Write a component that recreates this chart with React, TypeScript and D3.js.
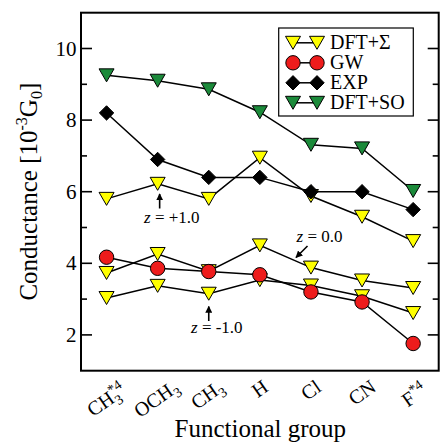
import React from 'react';
import * as d3 from 'd3';

// ---- data ----
const categories = ['CH3*4', 'OCH3', 'CH3', 'H', 'Cl', 'CN', 'F*4'];
const labelBase = ['CH', 'OCH', 'CH', 'H', 'Cl', 'CN', 'F'];
const labelSub = ['3', '3', '3', '', '', '', ''];
const labelSup = ['*4', '', '', '', '', '', '*4'];

const dftSigmaPlus1 = [5.8, 6.22, 5.8, 6.95, 5.88, 5.3, 4.62];
const dftSigmaZero = [3.73, 4.26, 3.78, 4.5, 3.88, 3.52, 3.31];
const dftSigmaMinus1 = [3.03, 3.37, 3.15, 3.53, 3.38, 3.08, 2.61];
const gwValues = [4.17, 3.86, 3.77, 3.68, 3.2, 2.92, 1.76];
const expValues = [8.2, 6.9, 6.4, 6.4, 6.0, 6.0, 5.5];
const dftSOValues = [9.25, 9.1, 8.86, 8.22, 7.31, 7.21, 6.02];

const yMajorTicks = [2, 4, 6, 8, 10];
const yMinorTicks = [3, 5, 7, 9];

const legendNames = ['DFT+Σ', 'GW', 'EXP', 'DFT+SO'];

const FONT = 'Liberation Serif';

type Marker = 'tri' | 'circle' | 'diamond';

function markerPath(m: Marker): string {
  if (m === 'tri') return 'M-7.5,-6.5L7.5,-6.5L0,6.5Z';
  if (m === 'diamond') return 'M0,-7.2L7.2,0L0,7.2L-7.2,0Z';
  return d3.arc()({ innerRadius: 0, outerRadius: 7.2, startAngle: 0, endAngle: 2 * Math.PI }) as string;
}

const CW: Record<string, number> = { C: 0.667, H: 0.722, O: 0.722, l: 0.278, N: 0.722, F: 0.556 };
const textW = (s: string, size: number) => s.split('').reduce((a, ch) => a + (CW[ch] ?? 0.5), 0) * size;

const W = 440, H = 445;
const left = 81, right = 438.7, top = 12.7, bottom = 370.7;
const x = d3.scaleLinear().domain([-0.5, 6.5]).range([left, right]);
const y = d3.scaleLinear().domain([1, 11]).range([bottom, top]);

const series: { values: number[]; marker: Marker; fill: string }[] = [
  { values: dftSigmaPlus1, marker: 'tri', fill: '#ffff00' },
  { values: dftSigmaZero, marker: 'tri', fill: '#ffff00' },
  { values: dftSigmaMinus1, marker: 'tri', fill: '#ffff00' },
  { values: gwValues, marker: 'circle', fill: '#ee1c1c' },
  { values: expValues, marker: 'diamond', fill: '#000000' },
  { values: dftSOValues, marker: 'tri', fill: '#1b8a3a' },
];
const legMarkers: Marker[] = ['tri', 'circle', 'diamond', 'tri'];
const legFills = ['#ffff00', '#ee1c1c', '#000000', '#1b8a3a'];

const ANG = -35;

function xLabelPos(i: number): [number, number] {
  const base = textW(labelBase[i], 20);
  const sub = labelSub[i] ? textW(labelSub[i], 14) : 0;
  const sup = labelSup[i] ? textW(labelSup[i], 14) : 0;
  const w = base + Math.max(sub, sup);
  const yTop = labelSup[i] ? -17.5 : -13.5;
  const yBot = labelSub[i] ? 5 : 0;
  const a = ANG * Math.PI / 180, ca = Math.cos(a), sa = Math.sin(a);
  const pts = [[-w / 2, yTop], [w / 2, yTop], [-w / 2, yBot], [w / 2, yBot]]
    .map(([px, py]) => [px * ca - py * sa, px * sa + py * ca]);
  const minX = Math.min(...pts.map(p => p[0])), maxX = Math.max(...pts.map(p => p[0]));
  const minY = Math.min(...pts.map(p => p[1]));
  return [x(i) - (minX + maxX) / 2, 379 - minY];
}

const line = d3.line<number>().x((_, i) => x(i)).y(d => y(d));

const annotations = [
  { tx: 144, ty: 222.7, label: ' = +1.0', a: [x(1) + 2, 208.5, x(1) + 2, 194] },
  { tx: 296.5, ty: 241.7, label: ' = 0.0', a: [307.5, 246, 296, 257.5] },
  { tx: 191, ty: 333, label: ' = -1.0', a: [x(2), 321, x(2), 306.5] },
];

export default function App() {
  return (
    <svg width={W} height={H}
      style={{ position: 'absolute', left: 0, top: 0, display: 'block', background: '#fff' }}>
      <defs>
        <marker id="ah" viewBox="0 0 10 10" refX={9} refY={5} markerWidth={7} markerHeight={7}
          markerUnits="userSpaceOnUse" orient="auto">
          <path d="M0,0L10,5L0,10Z" fill="#000" />
        </marker>
      </defs>
      <rect width={W} height={H} fill="#fff" />

      {series.map((s, si) => (
        <g key={si}>
          <path d={line(s.values)!} fill="none" stroke="#000" strokeWidth={1.5} />
          {s.values.map((v, i) => (
            <path key={i} d={markerPath(s.marker)} transform={`translate(${x(i)},${y(v)})`}
              fill={s.fill} stroke="#000" strokeWidth={1} />
          ))}
        </g>
      ))}

      <rect x={left} y={top} width={right - left} height={bottom - top}
        fill="none" stroke="#000" strokeWidth={2} />

      <g stroke="#000" strokeWidth={1.6}>
        {yMajorTicks.map(v => (
          <g key={'M' + v}>
            <line x1={left} x2={left + 11} y1={y(v)} y2={y(v)} />
            <line x1={right} x2={right - 11} y1={y(v)} y2={y(v)} />
          </g>
        ))}
        {yMinorTicks.map(v => (
          <g key={'m' + v}>
            <line x1={left} x2={left + 6} y1={y(v)} y2={y(v)} />
            <line x1={right} x2={right - 6} y1={y(v)} y2={y(v)} />
          </g>
        ))}
      </g>
      {yMajorTicks.map(v => (
        <text key={'t' + v} x={76.5} y={y(v) + 7} textAnchor="end" fontSize={21}
          style={{ fontFamily: FONT }}>{v}</text>
      ))}

      {categories.map((c, i) => {
        const [px, py] = xLabelPos(i);
        return (
          <text key={c} x={px} y={py} transform={`rotate(${ANG} ${px} ${py})`} textAnchor="middle"
            fontSize={20} style={{ fontFamily: FONT }}>
            {labelBase[i]}
            {labelSub[i] ? <tspan dy={5} fontSize={14}>{labelSub[i]}</tspan> : null}
            {labelSup[i] ? (labelSub[i]
              ? <tspan dx={-7} dy={-13} fontSize={14}>{labelSup[i]}</tspan>
              : <tspan dy={-8} fontSize={14}>{labelSup[i]}</tspan>) : null}
          </text>
        );
      })}

      <text x={260.3} y={437} textAnchor="middle" fontSize={25} style={{ fontFamily: FONT }}>Functional group</text>
      <text transform={`translate(37,${(top + bottom) / 2}) rotate(-90)`} textAnchor="middle" fontSize={25}
        style={{ fontFamily: FONT }}>
        Conductance [10
        <tspan dy={-10} fontSize={16}>-3</tspan>
        <tspan dy={10}>G</tspan>
        <tspan dy={5} fontSize={16}>0</tspan>
        <tspan dy={-5}>]</tspan>
      </text>

      {annotations.map((a, k) => (
        <g key={'a' + k}>
          <text x={a.tx} y={a.ty} fontSize={17} style={{ fontFamily: FONT }}>
            <tspan fontStyle="italic">z</tspan>{a.label}
          </text>
          <line x1={a.a[0]} y1={a.a[1]} x2={a.a[2]} y2={a.a[3]} stroke="#000" strokeWidth={1.6}
            markerEnd="url(#ah)" />
        </g>
      ))}

      <g>
        <rect x={278.7} y={28} width={134.6} height={88} fill="#fff" stroke="#000" strokeWidth={1.2} />
        {legendNames.map((n, i) => {
          const cy = 42.8 + i * 20;
          return (
            <g key={n}>
              <line x1={293} x2={317} y1={cy} y2={cy} stroke="#000" strokeWidth={1.5} />
              {[293, 317].map(mx => (
                <path key={mx} d={markerPath(legMarkers[i])} transform={`translate(${mx},${cy})`}
                  fill={legFills[i]} stroke="#000" strokeWidth={1} />
              ))}
              <text x={330} y={cy + 6.5} fontSize={20} style={{ fontFamily: FONT }}>{n}</text>
            </g>
          );
        })}
      </g>
    </svg>
  );
}
